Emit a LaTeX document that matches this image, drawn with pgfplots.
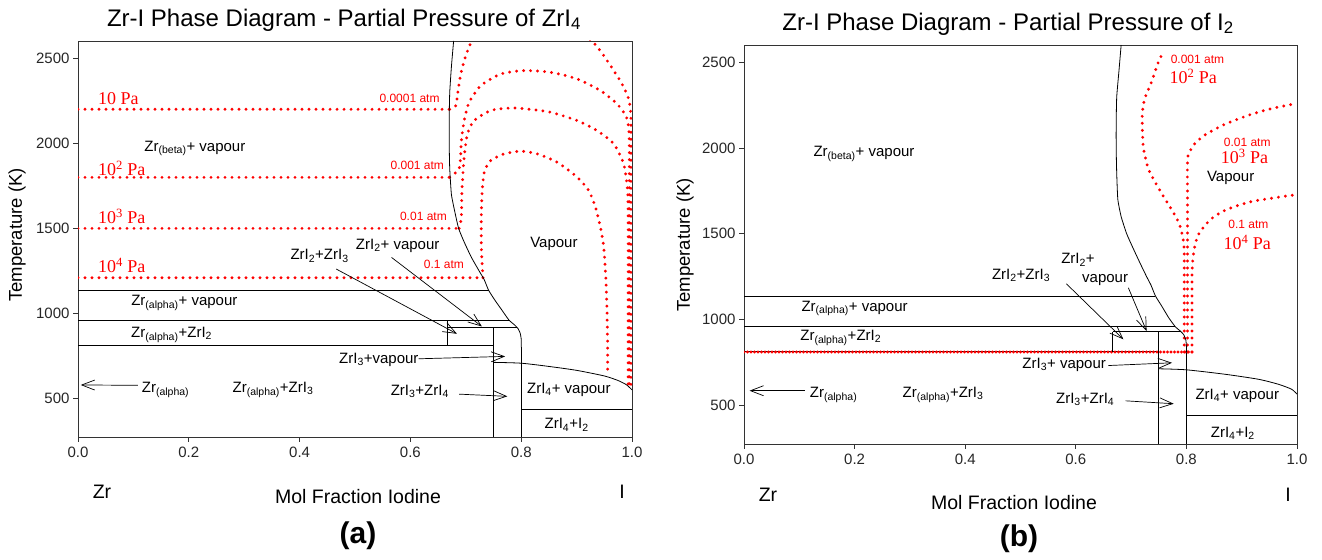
\documentclass[border=0pt]{standalone}
\usepackage{fontspec}
\setmainfont{Liberation Sans}
\newfontfamily\serifred{Liberation Serif}
\usepackage{pgfplots}
\pgfplotsset{compat=1.18}
\usetikzlibrary{arrows.meta}
\newcommand\fs[1]{\fontsize{#1bp}{#1bp}\selectfont}
\pgfplotsset{
 pd/.style={
  scale only axis, xmin=0,xmax=1,ymin=273,ymax=2602,
  xtick={0,0.2,0.4,0.6,0.8,1}, xticklabels={0.0,0.2,0.4,0.6,0.8,1.0},
  ytick={500,1000,1500,2000,2500}, yticklabels={500,1000,1500,2000,2500},
  tick align=outside, tick pos=left, major tick length=5bp,
  tick label style={font=\fs{15}, color=black!85},
  xticklabel style={yshift=-2bp},
  axis line style={line width=0.9bp, black!80},
  every tick/.style={black!80, line width=0.8bp},
  clip=true,
 },
}
\tikzset{
 ph/.style={black, line width=0.8bp},
 rd/.style={red, line width=3.2bp, line cap=round, dash pattern=on 0pt off 7bp},
 arr/.style={black, line width=0.7bp, -{Straight Barb[length=13bp,width=10bp]}},
 lb/.style={font=\fs{15}, inner sep=0pt},
 rpa/.style={font=\serifred\fs{18}, text=red, inner sep=0pt},
 ratm/.style={font=\fs{12}, text=red, inner sep=0pt},
}
\begin{document}
\begin{tikzpicture}
\useasboundingbox (0,0) rectangle (1322bp,560bp);
% ---------------- panel (a)
\begin{axis}[pd, at={(78bp,123bp)}, anchor=south west, width=554bp, height=396bp]
\addplot[rd] coordinates {(0,2200)(0.671,2200)};
\addplot[rd] coordinates {(0,1800)(0.671,1800)};
\addplot[rd] coordinates {(0,1500)(0.688,1500)};
\addplot[rd] coordinates {(0,1210)(0.731,1210)};
\addplot[rd, smooth, tension=0.4] coordinates {(0.671,2200)(0.682,2222)(0.686,2310)(0.691,2408)(0.698,2496)(0.706,2569)(0.716,2640)};
\addplot[rd, smooth, tension=0.4] coordinates {(0.915,2640)(0.934,2580)(0.949,2516)(0.967,2428)(0.982,2349)(0.994,2261)(0.998,2153)(0.998,1800)(0.998,1200)(0.998,800)(0.998,560)};
\addplot[rd, smooth, tension=0.4] coordinates {(0.671,1800)(0.688,1850)(0.691,1950)(0.692,2016)(0.697,2134)(0.706,2241)(0.727,2339)(0.763,2408)(0.805,2428)(0.853,2418)(0.901,2379)(0.943,2310)(0.973,2232)(0.990,2153)(0.995,2036)(0.995,1600)(0.995,1000)(0.995,570)};
\addplot[rd, smooth, tension=0.4] coordinates {(0.688,1500)(0.692,1566)(0.693,1722)(0.697,1918)(0.703,2055)(0.715,2134)(0.745,2193)(0.781,2208)(0.811,2202)(0.853,2183)(0.901,2134)(0.937,2075)(0.967,1997)(0.985,1879)(0.992,1722)(0.993,1566)(0.993,1000)(0.993,575)};
\addplot[rd, smooth, tension=0.4] coordinates {(0.731,1210)(0.728,1389)(0.728,1566)(0.730,1742)(0.734,1840)(0.745,1899)(0.769,1938)(0.799,1954)(0.829,1938)(0.865,1889)(0.901,1801)(0.922,1722)(0.934,1624)(0.943,1507)(0.949,1389)(0.953,1193)(0.955,997)(0.956,802)(0.956,640)};
\addplot[ph, smooth, tension=0.3] coordinates {(0.678,2602)(0.674,2450)(0.671,2300)(0.670,2150)(0.670,2000)(0.671,1850)(0.674,1700)(0.680,1600)(0.687,1500)(0.697,1420)(0.710,1330)(0.724,1250)(0.733,1200)(0.741,1137)(0.752,1080)(0.765,1020)(0.778,960)(0.787,935)(0.794,912)(0.798,885)(0.800,850)(0.800,800)};
\addplot[ph] coordinates {(0,1137)(0.741,1137)};
\addplot[ph] coordinates {(0,957)(0.779,957)};
\addplot[ph] coordinates {(0.667,920)(0.792,920)};
\addplot[ph] coordinates {(0.667,957)(0.667,812)};
\addplot[ph, line width=1.4bp] coordinates {(0,812)(0.75,812)};
\addplot[ph] coordinates {(0.75,273)(0.75,920)};
\addplot[ph] coordinates {(0.8,273)(0.8,800)};
\addplot[ph, smooth, tension=0.4] coordinates {(0.75,712)(0.8,707)(0.85,688)(0.9,665)(0.95,632)(0.975,605)(0.99,580)(1.0,550)};
\addplot[ph] coordinates {(0.8,437)(1,437)};
\addplot[arr] coordinates {(0.466,1261)(0.684,880)};
\addplot[arr] coordinates {(0.566,1329)(0.729,923)};
\addplot[arr] coordinates {(0.615,733)(0.771,747)};
\addplot[arr] coordinates {(0.688,525)(0.775,512)};
\addplot[arr] coordinates {(0.108,577)(0.005,579)};
\node[lb] at (axis cs:0.211,1971) {Zr\textsubscript{(beta)}+ vapour};
\node[lb] at (axis cs:0.192,1061) {Zr\textsubscript{(alpha)}+ vapour};
\node[lb] at (axis cs:0.169,875) {Zr\textsubscript{(alpha)}+ZrI\textsubscript{2}};
\node[lb] at (axis cs:0.158,551) {Zr\textsubscript{(alpha)}};
\node[lb] at (axis cs:0.352,551) {Zr\textsubscript{(alpha)}+ZrI\textsubscript{3}};
\node[lb] at (axis cs:0.543,727) {ZrI\textsubscript{3}+vapour};
\node[lb] at (axis cs:0.617,541) {ZrI\textsubscript{3}+ZrI\textsubscript{4}};
\node[lb] at (axis cs:0.886,551) {ZrI\textsubscript{4}+ vapour};
\node[lb] at (axis cs:0.882,345) {ZrI\textsubscript{4}+I\textsubscript{2}};
\node[lb] at (axis cs:0.436,1338) {ZrI\textsubscript{2}+ZrI\textsubscript{3}};
\node[lb] at (axis cs:0.577,1397) {ZrI\textsubscript{2}+ vapour};
\node[lb] at (axis cs:0.859,1407) {Vapour};
\node[rpa, anchor=west] at (axis cs:0.036,2263) {10 Pa};
\node[rpa, anchor=west] at (axis cs:0.036,1854) {10\textsuperscript{2} Pa};
\node[rpa, anchor=west] at (axis cs:0.036,1572) {10\textsuperscript{3} Pa};
\node[rpa, anchor=west] at (axis cs:0.036,1280) {10\textsuperscript{4} Pa};
\node[ratm, anchor=east] at (axis cs:0.653,2267) {0.0001 atm};
\node[ratm, anchor=east] at (axis cs:0.661,1870) {0.001 atm};
\node[ratm, anchor=east] at (axis cs:0.666,1568) {0.01 atm};
\node[ratm, anchor=east] at (axis cs:0.697,1286) {0.1 atm};
\end{axis}
% ---------------- panel (b)
\begin{axis}[pd, at={(744bp,116bp)}, anchor=south west, width=553bp, height=399bp]
\addplot[ph] coordinates {(0,812)(0.75,812)};
\addplot[rd, dash pattern=on 0pt off 3.5bp] coordinates {(0,810)(0.811,810)};
\addplot[rd, smooth, tension=0.4] coordinates {(0.796,810)(0.796,1000)(0.796,1200)(0.796,1400)(0.794,1470)(0.788,1550)(0.777,1621)(0.755,1737)(0.732,1873)(0.722,2010)(0.720,2185)(0.724,2282)(0.736,2379)(0.751,2516)(0.760,2564)};
\addplot[rd, smooth, tension=0.4] coordinates {(0.802,810)(0.802,1200)(0.802,1600)(0.802,1930)(0.807,1985)(0.816,2030)(0.835,2080)(0.87,2140)(0.915,2195)(0.955,2232)(0.995,2258)};
\addplot[rd, smooth, tension=0.4] coordinates {(0.810,810)(0.810,1200)(0.811,1330)(0.814,1407)(0.820,1485)(0.832,1543)(0.846,1590)(0.865,1630)(0.89,1662)(0.92,1690)(0.955,1708)(0.995,1727)};
\addplot[ph, smooth, tension=0.3] coordinates {(0.682,2602)(0.678,2450)(0.674,2300)(0.673,2150)(0.673,2000)(0.674,1850)(0.676,1700)(0.682,1600)(0.692,1500)(0.703,1420)(0.716,1330)(0.728,1250)(0.736,1200)(0.744,1137)(0.755,1080)(0.768,1010)(0.780,957)(0.788,935)(0.795,912)(0.799,880)(0.800,840)(0.800,806)};
\addplot[ph] coordinates {(0,1137)(0.744,1137)};
\addplot[ph] coordinates {(0,957)(0.780,957)};
\addplot[ph] coordinates {(0.667,928)(0.790,928)};
\addplot[ph] coordinates {(0.667,928)(0.667,812)};
\addplot[ph] coordinates {(0.75,273)(0.75,928)};
\addplot[ph] coordinates {(0.8,273)(0.8,806)};
\addplot[ph, smooth, tension=0.4] coordinates {(0.75,712)(0.8,706)(0.87,680)(0.93,651)(0.966,622)(0.99,593)(1.0,564)};
\addplot[ph] coordinates {(0.8,438)(1,438)};
\addplot[arr] coordinates {(0.583,1208)(0.686,884)};
\addplot[arr] coordinates {(0.695,1185)(0.728,932)};
\addplot[arr] coordinates {(0.659,731)(0.774,747)};
\addplot[arr] coordinates {(0.690,525)(0.777,508)};
\addplot[arr] coordinates {(0.110,584)(0.010,584)};
\node[lb] at (axis cs:0.217,1967) {Zr\textsubscript{(beta)}+ vapour};
\node[lb] at (axis cs:0.200,1065) {Zr\textsubscript{(alpha)}+ vapour};
\node[lb] at (axis cs:0.175,894) {Zr\textsubscript{(alpha)}+ZrI\textsubscript{2}};
\node[lb] at (axis cs:0.162,561) {Zr\textsubscript{(alpha)}};
\node[lb] at (axis cs:0.360,561) {Zr\textsubscript{(alpha)}+ZrI\textsubscript{3}};
\node[lb] at (axis cs:0.501,1257) {ZrI\textsubscript{2}+ZrI\textsubscript{3}};
\node[lb] at (axis cs:0.604,1349) {ZrI\textsubscript{2}+};
\node[lb] at (axis cs:0.653,1233) {vapour};
\node[lb] at (axis cs:0.579,737) {ZrI\textsubscript{3}+ vapour};
\node[lb] at (axis cs:0.617,535) {ZrI\textsubscript{3}+ZrI\textsubscript{4}};
\node[lb] at (axis cs:0.892,555) {ZrI\textsubscript{4}+ vapour};
\node[lb] at (axis cs:0.884,335) {ZrI\textsubscript{4}+I\textsubscript{2}};
\node[lb] at (axis cs:0.880,1825) {Vapour};
\node[ratm] at (axis cs:0.820,2519) {0.001 atm};
\node[rpa] at (axis cs:0.8125,2418) {10\textsuperscript{2} Pa};
\node[ratm] at (axis cs:0.910,2033) {0.01 atm};
\node[rpa] at (axis cs:0.905,1951) {10\textsuperscript{3} Pa};
\node[ratm] at (axis cs:0.912,1553) {0.1 atm};
\node[rpa] at (axis cs:0.910,1449) {10\textsuperscript{4} Pa};
\end{axis}
% ---------------- titles and outer labels
\node[font=\fs{24}] at (344bp,540bp) {Zr-I Phase Diagram - Partial Pressure of ZrI\textsubscript{4}};
\node[font=\fs{24}] at (1008bp,536bp) {Zr-I Phase Diagram - Partial Pressure of I\textsubscript{2}};
\node[font=\fs{18.5}, rotate=90] at (17bp,325bp) {Temperature (K)};
\node[font=\fs{18.5}, rotate=90] at (685bp,315bp) {Temperature (K)};
\node[font=\fs{19.5}] at (358bp,63bp) {Mol Fraction Iodine};
\node[font=\fs{19.5}] at (1014bp,57bp) {Mol Fraction Iodine};
\node[font=\fs{19.5}] at (102bp,68bp) {Zr};
\node[font=\fs{19.5}] at (622bp,68bp) {I};
\node[font=\fs{19.5}] at (768bp,65bp) {Zr};
\node[font=\fs{19.5}] at (1288bp,65bp) {I};
\node[font=\bfseries\fs{30}] at (358bp,24bp) {(a)};
\node[font=\bfseries\fs{30}] at (1019bp,21bp) {(b)};
\end{tikzpicture}
\end{document}
